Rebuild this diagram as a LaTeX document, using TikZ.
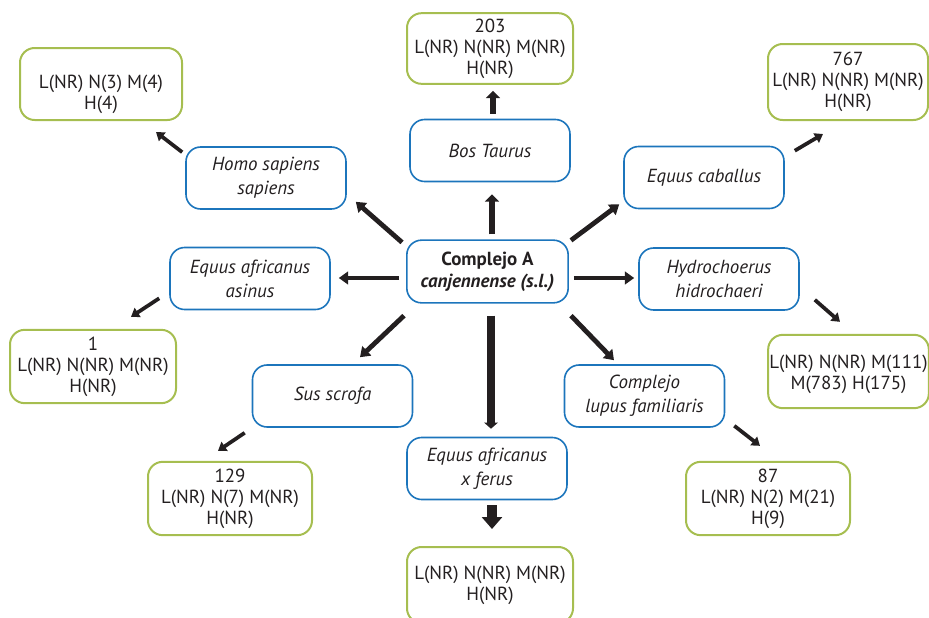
\documentclass[tikz,border=0pt]{standalone}
\usepackage{fontspec}
\setmainfont{PT Sans}
\usetikzlibrary{arrows.meta,calc}
\definecolor{ink}{RGB}{35,31,32}
\definecolor{boxblue}{RGB}{28,117,188}
\definecolor{boxgreen}{RGB}{166,190,80}
\tikzset{
  base/.style={rectangle, rounded corners=11pt, align=center, inner sep=0pt, text=ink,
    font=\fontsize{14.2}{15.8}\selectfont},
  bluebox/.style={base, draw=boxblue, line width=1.2pt, minimum width=120pt, minimum height=46.5pt,
    font=\fontsize{14.2}{18}\selectfont\itshape},
  greenbox/.style={base, draw=boxgreen, line width=1.5pt, minimum width=123pt, minimum height=55pt},
  arrmain/.style={draw=ink, line width=5pt, -{Triangle[length=5.5pt,width=10.5pt]}},
  arrdiag/.style={draw=ink, line width=3.6pt, -{Triangle[length=7pt,width=9.5pt]}},
  arrsub/.style={draw=ink, line width=2.8pt, -{Triangle[length=6pt,width=8pt]}},
  arrblock/.style={draw=ink, line width=7.5pt, -{Triangle[length=9pt,width=15pt]}},
}
\begin{document}
\begin{tikzpicture}[x=0.75pt,y=-0.75pt]
\useasboundingbox (0,0) rectangle (929,618);
\clip (0,0) rectangle (929,618);

% central node
\node[bluebox, font=\fontsize{14.2}{16.5}\selectfont, minimum width=121pt, minimum height=47pt]
  (cA) at (487.5,271.5) {\textbf{Complejo A}\\\textbf{\textit{canjennense (s.l.)}}};

% species
\node[bluebox] (bos)  at (490,150.5) {Bos Taurus};
\node[bluebox] (homo) at (266,178)   {Homo sapiens\\sapiens};
\node[bluebox] (cab)  at (704,177.5) {Equus caballus};
\node[bluebox] (asin) at (250,278.5) {Equus africanus\\asinus};
\node[bluebox] (hyd)  at (719,279)   {Hydrochoerus\\hidrochaeri};
\node[bluebox] (sus)  at (332.5,396) {Sus scrofa};
\node[bluebox] (fer)  at (487,468.5) {Equus africanus\\x ferus};
\node[bluebox] (lup)  at (644.5,396) {Complejo\\lupus familiaris};

% counts
\node[greenbox, minimum width=124.5pt, minimum height=53pt] (g203) at (490,48.5) {203\\L(NR) N(NR) M(NR)\\H(NR)};
\node[greenbox, minimum width=121.5pt, minimum height=54pt] (g4)   at (101,84)   {\rule{0pt}{25pt}L(NR) N(3) M(4)\\H(4)};
\node[greenbox, minimum width=120pt, minimum height=57pt]   (g767) at (848,82)   {767\\L(NR) N(NR) M(NR)\\H(NR)};
\node[greenbox, minimum width=124.5pt, minimum height=55pt] (g1)   at (93,366.5) {1\\L(NR) N(NR) M(NR)\\H(NR)};
\node[greenbox, minimum width=120.5pt, minimum height=55pt] (gh)   at (848.5,371.5) {\rule{0pt}{15pt}L(NR) N(NR) M(111)\\M(783) H(175)};
\node[greenbox] (g129) at (230,498.5) {129\\L(NR) N(7) M(NR)\\H(NR)};
\node[greenbox, minimum width=124.5pt, minimum height=57pt] (gb) at (490,585) {L(NR) N(NR) M(NR)\\H(NR)};
\node[greenbox] (g87)  at (768,498.5) {87\\L(NR) N(2) M(21)\\H(9)};

% arrows from the central node
\draw[arrmain] ($(cA.north)+(4.5,-5)$) -- ($(bos.south)+(2,12)$);
\draw[arrdiag] ($(cA.north west)+(-4,3)$) -- ($(homo.south east)+(9,-8)$);
\draw[arrdiag] ($(cA.north east)+(2,1)$) -- ($(cab.south west)+(-4,-5)$);
\draw[arrdiag] ($(cA.west)+(-7,6.5)$) -- ($(asin.east)+(8,-0.5)$);
\draw[arrdiag] ($(cA.east)+(5,6.5)$) -- ($(hyd.west)+(-4,-1)$);
\draw[arrdiag] ($(cA.south west)+(-2,12)$) -- ($(sus.north)+(27.5,-7)$);
\draw[arrmain, -{Triangle[length=4.5pt,width=10pt]}, line width=6pt] ($(cA.south)+(3.5,12)$) -- ($(fer.north)+(4,-8)$);
\draw[arrdiag] ($(cA.south east)+(2,12)$) -- ($(lup.north)+(-30.5,-4)$);

% arrows to the counts
\draw[arrmain, line width=4.8pt] ($(bos.north)+(3,-5)$) -- ($(g203.south)+(3,6)$);
\draw[arrsub] ($(homo.north west)+(-3,6)$) -- ($(g4.south east)+(-27,11)$);
\draw[arrsub] ($(cab.north east)+(10,5)$) -- ($(g767.south)+(-25,13)$);
\draw[arrsub] ($(asin.south west)+(-10,-12)$) -- ($(g1.north)+(38,-12)$);
\draw[arrsub] ($(hyd.south east)+(15,-11)$) -- ($(gh.north)+(-8.5,-12)$);
\draw[arrsub] ($(sus.south west)+(-7,5)$) -- ($(g129.north)+(-12,-10)$);
\draw[arrblock] ($(fer.south)+(5,5)$) -- ($(gb.north)+(2,-17)$);
\draw[arrsub] ($(lup.south east)+(9,-2)$) -- ($(g87.north)+(-8,-15)$);
\end{tikzpicture}
\end{document}
